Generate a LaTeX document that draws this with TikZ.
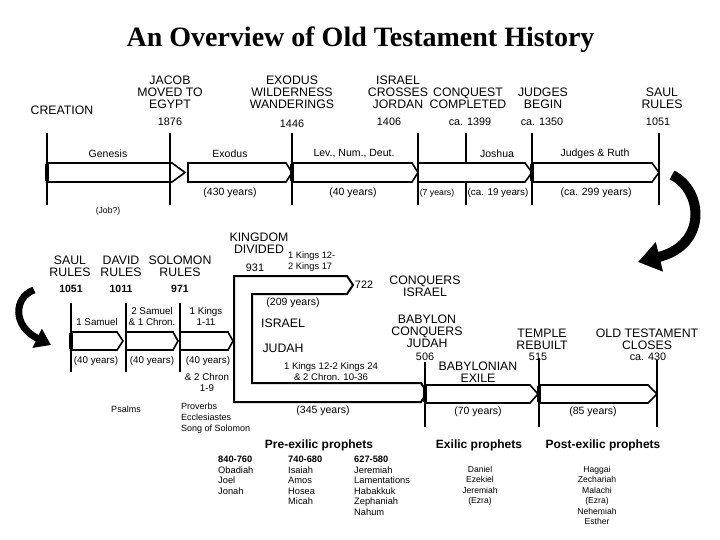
\documentclass[tikz,border=0pt]{standalone}
\usepackage{fontspec}
\setmainfont{Liberation Sans}
\newfontfamily\titlefont{Liberation Serif}
\usetikzlibrary{arrows.meta}
\newcommand{\tlarr}[5]{\draw[arrowbox] (#1,#4) -- (#2,#4) -- (#3,{(#4+#5)/2}) -- (#2,#5) -- (#1,#5) -- cycle;}
\begin{document}
\begin{tikzpicture}[x=1pt,y=-1pt,
  capl/.style={font=\fontsize{12.3}{11.8}\selectfont, align=center, inner sep=0pt},
  numl/.style={font=\fontsize{10.8}{12}\selectfont, inner sep=0pt},
  bnum/.style={font=\fontsize{10.5}{12}\selectfont\bfseries, inner sep=0pt},
  labl/.style={font=\fontsize{10.5}{11}\selectfont, align=center, inner sep=0pt},
  slabl/.style={font=\fontsize{9.8}{11}\selectfont, align=center, inner sep=0pt},
  smalll/.style={font=\fontsize{9}{11}\selectfont, align=left, inner sep=0pt},
  listl/.style={font=\fontsize{9.3}{10.5}\selectfont, align=left, inner sep=0pt, anchor=north west},
  clist/.style={font=\fontsize{8.6}{10.4}\selectfont, align=center, inner sep=0pt, anchor=north},
  headl/.style={font=\fontsize{12}{14}\selectfont\bfseries, inner sep=0pt},
  arrowbox/.style={draw=black, fill=white, line width=1.6pt, line join=miter},
  vline/.style={line width=1.7pt},
  thickedge/.style={line width=3.6pt},
  bracket/.style={draw=black, line width=2pt, line join=miter},
  bigarrow/.style={line width=#1, -{Triangle[width=2.9*#1,length=2.2*#1]}}
]
\useasboundingbox[fill=white] (0,0) rectangle (720,540);

% Title
\node[font=\titlefont\bfseries\fontsize{28}{30}\selectfont, anchor=base, inner sep=0pt] (title) at (360.5,47) {An Overview of Old Testament History};

% ---------------- Top timeline ----------------
\tlarr{47}{172}{185}{163}{182}
\tlarr{188}{286}{292}{163}{182}
\tlarr{292}{412}{418}{163}{182}
\tlarr{418}{525}{532}{163}{182}
\tlarr{532}{652}{659}{163}{182}
\foreach \xx in {47,170,292,418,532,659} \draw[vline] (\xx,133) -- (\xx,205);
\draw[vline] (466,133) -- (466,163);
\draw[vline] (466,182) -- (466,205);
\foreach \xx in {47,292,532} \draw[thickedge] (\xx,163.8) -- (\xx,181.2);

\node[capl] (creation) at (62,110) {CREATION};
\node[capl] (jacob) at (170,92.5) {JACOB\\MOVED TO\\EGYPT};
\node[numl] (y1876) at (170,122) {1876};
\node[capl] (exodus) at (292,92.5) {EXODUS\\WILDERNESS\\WANDERINGS};
\node[numl] (y1446) at (292,123.5) {1446};
\node[capl] (jordan) at (398,92.5) {ISRAEL\\CROSSES\\JORDAN};
\node[numl] (y1406) at (389,122) {1406};
\node[capl] (conquest) at (468,98) {CONQUEST\\COMPLETED};
\node[numl] (y1399) at (470,122) {ca. 1399};
\node[capl] (judges) at (543,98) {JUDGES\\BEGIN};
\node[numl] (y1350) at (542,122) {ca. 1350};
\node[capl] (saul1) at (662,98) {SAUL\\RULES};
\node[numl] (y1051a) at (658,122) {1051};

\node[labl] (genesis) at (108,154) {Genesis};
\node[labl] (exbook) at (230,154) {Exodus};
\node[labl] (lev) at (354,154) {Lev., Num., Deut.};
\node[labl] (joshua) at (497,154) {Joshua};
\node[labl] (jruth) at (595,154) {Judges \& Ruth};
\node[labl] (d430) at (230,193) {(430 years)};
\node[labl] (d40a) at (353,193) {(40 years)};
\node[font=\fontsize{8.7}{10}\selectfont, inner sep=0pt] (d7) at (437,193) {(7 years)};
\node[slabl] (d19) at (498,193) {(ca. 19 years)};
\node[labl] (d299) at (596,193) {(ca. 299 years)};
\node[font=\fontsize{8.6}{10}\selectfont, inner sep=0pt] (job) at (108,211) {(Job?)};

% big curved arrows
\coordinate (ra1) at (672,175);
\coordinate (ra2) at (638,262);
\draw[bigarrow=10pt] (ra1) .. controls (703,190) and (708,245) .. (ra2);
\coordinate (la1) at (34,290);
\coordinate (la2) at (51,345);
\draw[bigarrow=7pt] (la1) .. controls (14,297) and (12,326) .. (la2);

% ---------------- Second timeline ----------------
\tlarr{71}{117}{123}{332}{350}
\tlarr{126}{173}{178}{332}{350}
\tlarr{180}{228}{233}{332}{350}
\foreach \xx in {71,126,180} \draw[vline] (\xx,303) -- (\xx,372);
\draw[thickedge] (71,332.8) -- (71,349.2);

\node[capl] (saul2) at (70,266) {SAUL\\RULES};
\node[capl] (david) at (121,266) {DAVID\\RULES};
\node[capl] (solomon) at (180,266) {SOLOMON\\RULES};
\node[bnum] (y1051b) at (71,289) {1051};
\node[bnum] (y1011) at (121,289) {1011};
\node[bnum] (y971) at (180,289) {971};

\node[slabl] (sam1) at (97,322) {1 Samuel};
\node[slabl] (sam2) at (152,316.5) {2 Samuel\\\& 1 Chron.};
\node[slabl] (kings1) at (206,316.5) {1 Kings\\1-11};
\node[slabl] (d40b) at (96,361) {(40 years)};
\node[slabl] (d40c) at (152,361) {(40 years)};
\node[slabl] (d40d) at (208,361) {(40 years)};
\node[slabl] (chron2) at (207,382) {\& 2 Chron\\1-9};
\node[smalll] (psalms) at (126,409) {Psalms};
\node[smalll, anchor=west] (wisdom) at (181,418.5) {Proverbs\\Ecclesiastes\\Song of Solomon};

% Divided kingdom bracket
\draw[bracket] (234,276) -- (347,276) -- (353,285) -- (347,294) -- (252,294) -- (252,383)
  -- (421,383) -- (427,392.5) -- (421,402) -- (234,402) -- cycle;

\node[capl] (divided) at (259,243) {KINGDOM\\DIVIDED};
\node[numl] (y931) at (255,268) {931};
\node[font=\fontsize{9.3}{11}\selectfont, align=left, inner sep=0pt, anchor=west] (k1217) at (288,261.5) {1 Kings 12-\\2 Kings 17};
\node[numl] (y722) at (364,285) {722};
\node[capl] (conqisr) at (425,286) {CONQUERS\\ISRAEL};
\node[labl] (d209) at (293,303) {(209 years)};
\node[capl] (israel) at (283,323) {ISRAEL};
\node[capl] (judah) at (283,348) {JUDAH};
\node[font=\fontsize{9.6}{11}\selectfont, align=center, inner sep=0pt] (k1224) at (331,371.5) {1 Kings 12-2 Kings 24\\\& 2 Chron. 10-36};
\node[labl] (d345) at (323,411) {(345 years)};

% ---------------- Exile and return ----------------
\tlarr{425}{530}{538}{385}{403}
\tlarr{539}{648}{657}{385}{403}
\draw[vline] (425,362) -- (425,427);
\draw[vline] (539,358) -- (539,427);
\draw[vline] (657,360) -- (657,427);
\foreach \xx in {425,539} \draw[thickedge] (\xx,385.8) -- (\xx,402.2);

\node[capl] (babylon) at (427,331.5) {BABYLON\\CONQUERS\\JUDAH};
\node[numl] (y506) at (425,357) {506};
\node[capl] (exile) at (478,372) {BABYLONIAN\\EXILE};
\node[capl] (temple) at (542,339) {TEMPLE\\REBUILT};
\node[numl] (y515) at (538,357) {515};
\node[capl] (otcloses) at (647,339) {OLD TESTAMENT\\CLOSES};
\node[numl] (y430) at (648,357) {ca. 430};
\node[labl] (d70) at (478,412) {(70 years)};
\node[labl] (d85) at (593,412) {(85 years)};

% ---------------- Prophets ----------------
\node[headl] (pre) at (319,445) {Pre-exilic prophets};
\node[headl] (exil) at (479,445) {Exilic prophets};
\node[headl] (post) at (603,445) {Post-exilic prophets};

\node[listl] (pcol1) at (218,456) {\textbf{840-760}\\Obadiah\\Joel\\Jonah};
\node[listl] (pcol2) at (288,456) {\textbf{740-680}\\Isaiah\\Amos\\Hosea\\Micah};
\node[listl] (pcol3) at (354,456) {\textbf{627-580}\\Jeremiah\\Lamentations\\Habakkuk\\Zephaniah\\Nahum};
\node[clist] (exlist) at (480,466) {Daniel\\Ezekiel\\Jeremiah\\(Ezra)};
\node[clist] (postlist) at (597,466) {Haggai\\Zechariah\\Malachi\\(Ezra)\\Nehemiah\\Esther};

\end{tikzpicture}
\end{document}
